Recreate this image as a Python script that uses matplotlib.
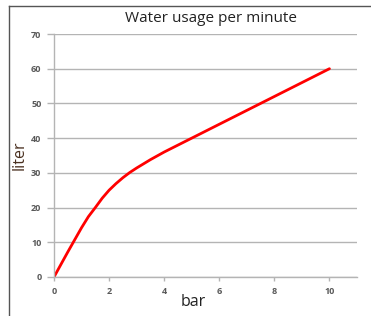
import matplotlib.pyplot as plt
from matplotlib.lines import Line2D

pressure = [0, 0.5, 0.75, 1, 1.25, 1.5, 1.75, 2, 2.25, 2.5, 2.75, 3, 3.5, 4, 4.5, 5, 6, 7, 8, 9, 10]
usage = [0, 7.2, 10.7, 14.2, 17.4, 20, 22.7, 25, 26.9, 28.6, 30.1, 31.4, 33.8, 36, 38, 40, 44, 48, 52, 56, 60]
x_ticks = [0, 2, 4, 6, 8, 10]
y_ticks = [0, 10, 20, 30, 40, 50, 60, 70]

plt.rcParams['font.family'] = ['Open Sans', 'DejaVu Sans']

fig = plt.figure(figsize=(3.71, 3.16), dpi=100)
ax = fig.add_axes([54/371, 39/316, 303/371, 243/316])

ax.plot(pressure, usage, color='#ff0000', lw=2, solid_capstyle='round', solid_joinstyle='round')

ax.set_xlim(0, 11)
ax.set_ylim(0, 70)
ax.set_xticks(x_ticks)
ax.set_yticks(y_ticks)
ax.grid(axis='y', color='#b4b4b4', lw=1)
ax.set_axisbelow(True)
for s in ['top', 'right']:
    ax.spines[s].set_visible(False)
for s in ['left', 'bottom']:
    ax.spines[s].set_color('#b4b4b4')
    ax.spines[s].set_linewidth(1)
ax.tick_params(axis='y', length=5, width=1, color='#b4b4b4', labelsize=6.5, labelcolor='#595959', pad=4)
ax.tick_params(axis='x', length=3, width=1, color='#b4b4b4', labelsize=6.5, labelcolor='#595959', pad=4)
for lbl in ax.get_xticklabels() + ax.get_yticklabels():
    lbl.set_fontweight('bold')

fig.text(211/371, 1 - 18/316, 'Water usage per minute', ha='center', va='center',
         fontsize=11, color='#222222')
fig.text(193/371, 1 - 302/316, 'bar', ha='center', va='center', fontsize=11.5, color='#222222')
fig.text(20/371, 1 - 155/316, 'liter', ha='center', va='center', rotation=90,
         fontsize=11.5, color='#4a3020')

# outer chart frame (left and top edges visible)
fig.add_artist(Line2D([8.5/371, 8.5/371], [0, 1 - 5.5/316], color='#555555', lw=1))
fig.add_artist(Line2D([8.5/371, 1], [1 - 5.5/316, 1 - 5.5/316], color='#555555', lw=1))

fig.savefig('out.png', dpi=100)
